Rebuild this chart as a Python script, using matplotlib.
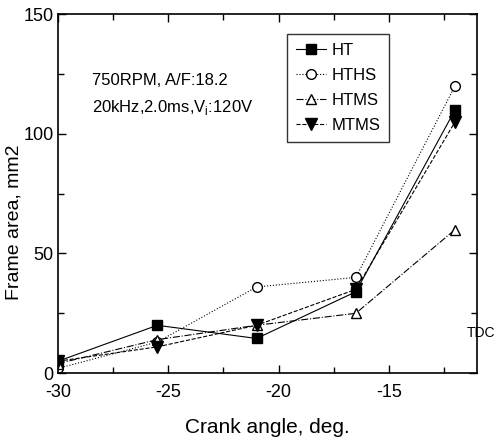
import matplotlib
matplotlib.use("Agg")
import matplotlib.pyplot as plt
from matplotlib.ticker import MultipleLocator

plt.rcParams['font.family'] = ['Liberation Sans', 'DejaVu Sans']
plt.rcParams['axes.unicode_minus'] = False

crank = [-30, -25.5, -21, -16.5, -12]
ht = [5, 20, 14.5, 34, 110]
hths = [2, 13, 36, 40, 120]
htms = [4, 14, 20, 25, 60]
mtms = [5, 11, 20, 35, 105]
labels = ["HT", "HTHS", "HTMS", "MTMS"]

fig = plt.figure(figsize=(4.96, 4.38), dpi=100)
ax = fig.add_axes([0.117, 0.148, 0.845, 0.820])

ax.plot(crank, ht, '-', color='black', lw=0.8, marker='s', ms=7, mfc='black', label=labels[0])
ax.plot(crank, hths, ':', color='black', lw=0.8, marker='o', ms=7, mfc='white', label=labels[1])
ax.plot(crank, htms, '-.', color='black', lw=0.8, marker='^', ms=7, mfc='white', label=labels[2])
ax.plot(crank, mtms, '--', color='black', lw=0.8, marker='v', ms=8, mfc='black', label=labels[3])

ax.set_xlim(-30, -11)
ax.set_ylim(0, 150)
ax.xaxis.set_major_locator(MultipleLocator(5))
ax.xaxis.set_minor_locator(MultipleLocator(2.5))
ax.yaxis.set_major_locator(MultipleLocator(50))
ax.yaxis.set_minor_locator(MultipleLocator(25))
ax.tick_params(which='both', direction='in', top=True, right=True, labelsize=13, width=1)
ax.tick_params(which='major', length=6)
ax.tick_params(which='minor', length=4)
ax.tick_params(axis='x', pad=8)
ax.tick_params(axis='y', pad=3)
for s in ax.spines.values():
    s.set_linewidth(1.2)

ax.set_xlabel("Crank angle, deg.", fontsize=15, labelpad=12)
ax.set_ylabel("Frame area, mm2", fontsize=14)
ax.yaxis.set_label_coords(-0.085, 0.42)

ax.text(0.081, 0.816, "750RPM, A/F:18.2", transform=ax.transAxes, fontsize=12, va='center')
ax.text(0.081, 0.741, "20kHz,2.0ms,V$_\\mathregular{i}$:120V", transform=ax.transAxes, fontsize=12, va='center')
fig.text(0.999, 0.24, "TDC", fontsize=10, ha='right', va='center')

leg = ax.legend(loc='upper left', bbox_to_anchor=(0.547, 0.944), borderaxespad=0, fontsize=12,
                frameon=True, fancybox=False, edgecolor='black', handlelength=1.8,
                handletextpad=0.3, borderpad=0.55, labelspacing=0.6)
leg.get_frame().set_linewidth(1.0)

fig.savefig("out.png", dpi=100)
